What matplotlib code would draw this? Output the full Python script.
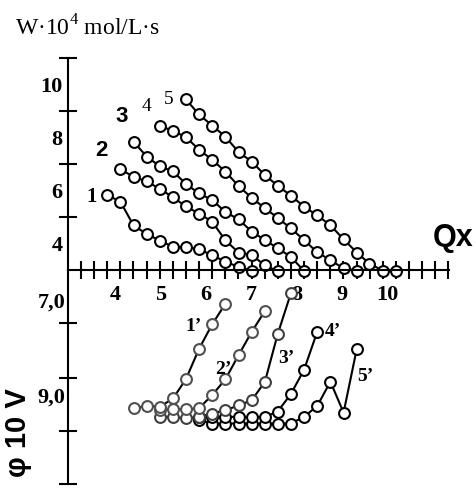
import matplotlib
matplotlib.use("Agg")
import matplotlib.pyplot as plt
import numpy as np

plt.rcParams['mathtext.fontset'] = 'custom'
plt.rcParams['mathtext.rm'] = 'Liberation Serif'

# ---- data ----
q_steps = [3.83, 4.12, 4.41, 4.70, 4.99, 5.28, 5.56, 5.85, 6.14, 6.43, 6.72, 7.01,
           7.30, 7.58, 7.87, 8.16, 8.45, 8.74, 9.03, 9.32, 9.60, 9.89, 10.18]

# upper panel: W*10^4, mol/L*s
w1 = [5.83, 5.58, 4.68, 4.36, 4.11, 3.87, 3.86, 3.79, 3.55, 3.32, 3.11, 2.98]
w2 = [6.80, 6.52, 6.34, 6.06, 5.74, 5.40, 5.13, 4.82, 4.12, 3.66, 3.57, 3.17, 2.96]
w3 = [7.84, 7.28, 6.91, 6.72, 6.25, 5.89, 5.64, 5.19, 4.91, 4.45, 4.13, 3.82, 3.50, 2.96]
w4 = [8.45, 8.24, 8.02, 7.54, 7.16, 6.71, 6.17, 5.72, 5.33, 4.97, 4.57, 4.13, 3.67,
      3.37, 3.06, 2.98]
w5 = [9.44, 8.87, 8.45, 8.03, 7.45, 7.09, 6.58, 6.18, 5.81, 5.39, 5.06, 4.69, 4.16,
      3.66, 3.24, 2.98, 2.98]
w_start = [0, 1, 2, 4, 6]
w_labels = ["1", "2", "3", "4", "5"]

# lower panel: phi*10, V
p1 = [9.28, 9.23, 9.25, 9.07, 8.67, 8.03, 7.51, 7.08]
p2 = [9.32, 9.30, 9.30, 9.28, 9.00, 8.67, 8.16, 7.67, 7.23]
p3 = [9.46, 9.46, 9.49, 9.46, 9.39, 9.32, 9.22, 9.11, 8.72, 7.72, 6.86]
p4 = [9.46, 9.46, 9.46, 9.46, 9.46, 9.46, 9.35, 8.98, 8.47, 7.67]
p5 = [9.53, 9.60, 9.60, 9.60, 9.60, 9.60, 9.60, 9.60, 9.46, 9.23, 8.72, 9.37, 8.03]
p_start = [2, 4, 4, 7, 7]
p_labels = ["1’", "2’", "3’", "4’", "5’"]

x_tick_vals = [4, 5, 6, 7, 8, 9, 10]
w_tick_vals = [4, 6, 8, 10]
p_tick_vals = [7.0, 9.0]
p_tick_text = ["7,0", "9,0"]

# ---- layout helpers ----
W, H = 476, 488
def qx(px):
    return 7 + (px - 251.3) / 45.46
def ww(py):
    return 3 + (270 - py) / 26.5
def pp(py):
    return 7 + (py - 300) / 47.5

SERIF = 'Liberation Serif'
SANS = 'Liberation Sans'

fig = plt.figure(figsize=(W / 100, H / 100), dpi=100)
axU = fig.add_axes([0, 218 / H, 1, 270 / H])
axL = fig.add_axes([0, 0, 1, 218 / H])
for ax in (axU, axL):
    ax.patch.set_visible(False)
    ax.set_xlim(qx(0), qx(W))
    for s in ('top', 'right'):
        ax.spines[s].set_visible(False)
    ax.spines['left'].set_position(('data', qx(68)))
    ax.spines['left'].set_linewidth(1.5)

axU.set_ylim(3, ww(0))
axL.set_ylim(pp(H), pp(270))

# upper axes spines / ticks
axU.spines['left'].set_bounds(3, 11)
axU.spines['bottom'].set_position(('data', 3))
axU.spines['bottom'].set_bounds(qx(68), qx(449))
axU.spines['bottom'].set_linewidth(1.5)
axU.set_yticks(w_tick_vals, labels=[str(v) for v in w_tick_vals],
               fontsize=16, fontweight='bold', fontfamily=SERIF)
axU.set_yticks([5, 7, 9, 11], minor=True)
axU.set_xticks(x_tick_vals, labels=[str(v) for v in x_tick_vals],
               fontsize=16, fontweight='bold', fontfamily=SERIF)
axU.set_xticks(qx(81) + (13.12 / 45.46) * np.arange(29), minor=True)
axU.tick_params(axis='y', which='major', length=0, pad=4)
axU.tick_params(axis='x', which='major', length=0, pad=11)
axU.tick_params(which='minor', direction='inout', length=13, width=1.5)

# lower axes spines / ticks
axL.spines['bottom'].set_visible(False)
axL.spines['left'].set_bounds(pp(270), pp(484))
axL.set_xticks([])
axL.set_yticks(p_tick_vals, labels=p_tick_text,
               fontsize=16, fontweight='bold', fontfamily=SERIF)
axL.set_yticks([pp(323), pp(378), pp(431), pp(484)], minor=True)
axL.tick_params(axis='y', which='major', length=0, pad=2)
axL.tick_params(axis='y', which='minor', direction='inout', length=13, width=1.5)

mk = dict(marker='o', markersize=7.8, markeredgewidth=1.5, markerfacecolor='white',
          linewidth=1.5, color='black', clip_on=False)

for ys, st in zip([w1, w2, w3, w4, w5], w_start):
    axU.plot(q_steps[st:st + len(ys)], ys, markeredgecolor='black', **mk)

p_edge = ['#505050', '#505050', '#404040', 'black', 'black']
for ys, st, ec in zip([p5, p4, p3, p2, p1], p_start[::-1], p_edge[::-1]):
    axL.plot(q_steps[st:st + len(ys)], ys, markeredgecolor=ec, **mk)

# curve labels (upper)
lab_pos_u = [(91.7, 196.7), (101.7, 150), (122, 116.7), (147, 106.7), (169, 100)]
lab_style_u = [dict(fontfamily=SERIF, fontweight='bold', fontsize=15),
               dict(fontfamily=SANS, fontweight='bold', fontsize=16),
               dict(fontfamily=SANS, fontweight='bold', fontsize=16),
               dict(fontfamily=SERIF, fontsize=14),
               dict(fontfamily=SERIF, fontsize=14)]
for t, (x, y), sty in zip(w_labels, lab_pos_u, lab_style_u):
    axU.text(qx(x), ww(y), t, ha='center', va='center', **sty)

lab_pos_l = [(193.3, 326.7), (223.3, 369), (286, 358.3), (333.3, 331.7), (365, 376.7)]
for t, (x, y) in zip(p_labels, lab_pos_l):
    axL.text(qx(x), pp(y), t, ha='center', va='center', fontfamily=SERIF,
             fontweight='bold', fontsize=14)

# titles
fig.text(15 / W, 1 - 28 / H, "W·10$^{4}$ mol/L·s", ha='left', va='center',
         fontfamily=SERIF, fontsize=17)
fig.text(474 / W, 1 - 238 / H, "Qx", ha='right', va='center',
         fontfamily=SANS, fontweight='bold', fontsize=22)
fig.text(18 / W, 1 - 388 / H, "φ 10 V", ha='center', va='top', rotation=90,
         fontfamily=SANS, fontweight='bold', fontsize=21)

fig.savefig("out.png", dpi=100)
